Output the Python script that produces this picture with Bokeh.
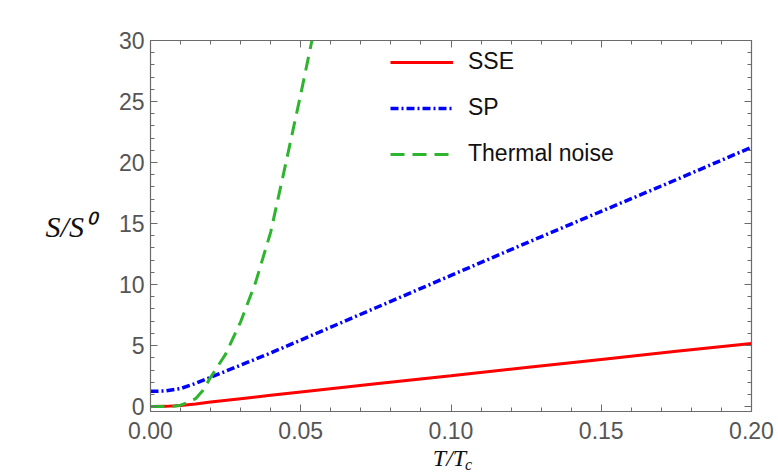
from bokeh.plotting import figure
from bokeh.models import (Range1d, LinearAxis, FixedTicker, Legend, LegendItem,
                          CustomJSTickFormatter, PrintfTickFormatter)
from bokeh.embed import file_html
from bokeh.resources import INLINE

# ---- data ----
t_sse = [0.0, 0.005, 0.01, 0.015, 0.02, 0.03, 0.04, 0.05, 0.075, 0.1, 0.125, 0.15, 0.175, 0.2]
s_sse = [0.0, 0.02, 0.1, 0.22, 0.37, 0.65, 0.93, 1.2, 1.87, 2.53, 3.2, 3.87, 4.53, 5.17]

t_sp = [0.0, 0.005, 0.01, 0.015, 0.02, 0.025, 0.03, 0.04, 0.05, 0.075, 0.1, 0.125, 0.15, 0.175, 0.2]
s_sp = [1.25, 1.28, 1.48, 1.9, 2.4, 2.9, 3.4, 4.4, 5.45, 8.1, 10.75, 13.4, 16.0, 18.6, 21.25]

t_th = [0.0, 0.005, 0.0075, 0.01, 0.0125, 0.015, 0.0175, 0.02, 0.025, 0.03, 0.035, 0.04, 0.045, 0.05, 0.055]
s_th = [0.0, 0.0, 0.02, 0.12, 0.35, 0.65, 1.35, 2.4, 4.3, 6.95, 10.2, 14.3, 19.9, 25.6, 31.5]

x_major = [0.0, 0.05, 0.10, 0.15, 0.20]
x_minor = [i / 100 for i in range(0, 21)]
y_major = [0, 5, 10, 15, 20, 25, 30]
y_minor = list(range(0, 31))

series_names = ["SSE", "SP", "Thermal noise"]
x_label_main = "T/T"
x_label_sub = "c"
y_label = "S/S⁰"

AX = "#6b6b6b"
LBL = "#555555"
FONT = "Liberation Sans"
SERIF = "Liberation Serif"

p = figure(width=778, height=476, output_backend="svg", toolbar_location=None,
           x_range=Range1d(0, 0.2), y_range=Range1d(-0.4, 30),
           min_border_left=150, min_border_right=27, min_border_top=40, min_border_bottom=65,
           x_axis_location=None, y_axis_location=None)
p.grid.visible = False
p.outline_line_color = None
p.background_fill_color = "white"
p.border_fill_color = "white"


def style_axis(ax, major, minor, labels=True, fmt=None):
    ax.ticker = FixedTicker(ticks=major, minor_ticks=minor)
    ax.axis_line_color = AX
    ax.axis_line_width = 1.2
    ax.major_tick_line_color = AX
    ax.minor_tick_line_color = AX
    ax.major_tick_in = 7
    ax.major_tick_out = 0
    ax.minor_tick_in = 4
    ax.minor_tick_out = 0
    ax.major_label_text_font = FONT
    ax.major_label_text_font_size = "23px"
    ax.major_label_text_color = LBL
    if labels:
        if fmt is not None:
            ax.formatter = fmt
    else:
        ax.formatter = CustomJSTickFormatter(code="return ''")


def text_axis(tick, text, size, standoff):
    # an axis without line or ticks, used only to place one piece of text below the frame
    ax = LinearAxis(ticker=FixedTicker(ticks=[tick], minor_ticks=[]),
                    formatter=CustomJSTickFormatter(code="return %r" % text))
    ax.axis_line_color = None
    ax.major_tick_line_color = None
    ax.minor_tick_line_color = None
    ax.major_tick_in = 0
    ax.major_tick_out = 0
    ax.minor_tick_in = 0
    ax.minor_tick_out = 0
    ax.major_label_standoff = standoff
    ax.major_label_text_font = SERIF
    ax.major_label_text_font_style = "italic"
    ax.major_label_text_font_size = size
    ax.major_label_text_color = "#111111"
    return ax


xb = LinearAxis()
style_axis(xb, x_major, x_minor, True, PrintfTickFormatter(format="%.2f"))
xb.major_label_standoff = 10
p.add_layout(xb, "below")

# x axis label "T/T" with subscript "c"
p.add_layout(text_axis(0.0995, x_label_main, "24px", 3), "below")
p.add_layout(text_axis(0.1058, x_label_sub, "16px", -18), "below")

xt = LinearAxis()
style_axis(xt, x_major, x_minor, False)
p.add_layout(xt, "above")

yl = LinearAxis()
style_axis(yl, y_major, y_minor, True)
yl.major_label_standoff = 6
yl.axis_label = y_label
yl.axis_label_orientation = "horizontal"
yl.axis_label_text_font = SERIF
yl.axis_label_text_font_style = "italic"
yl.axis_label_text_font_size = "30px"
yl.axis_label_text_color = "#111111"
yl.axis_label_standoff = 22
p.add_layout(yl, "left")

yr = LinearAxis()
style_axis(yr, y_major, y_minor, False)
p.add_layout(yr, "right")

r_sse = p.line(t_sse, s_sse, line_color="#ff0000", line_width=3)
r_sp = p.line(t_sp, s_sp, line_color="#0000ff", line_width=3.5, line_dash="8 3 2 3")
r_th = p.line(t_th, s_th, line_color="#2db52d", line_width=3, line_dash="14 8")

legend = Legend(items=[LegendItem(label=series_names[0], renderers=[r_sse]),
                       LegendItem(label=series_names[1], renderers=[r_sp]),
                       LegendItem(label=series_names[2], renderers=[r_th])],
                location=(240, 244), orientation="vertical",
                glyph_width=63, glyph_height=20, label_height=20, label_standoff=15,
                spacing=19, padding=0, margin=0,
                border_line_color=None, background_fill_alpha=0,
                label_text_font=FONT, label_text_font_size="23px",
                label_text_color="#111111")
p.add_layout(legend, "center")

open("out.html", "w").write(file_html(p, INLINE))
